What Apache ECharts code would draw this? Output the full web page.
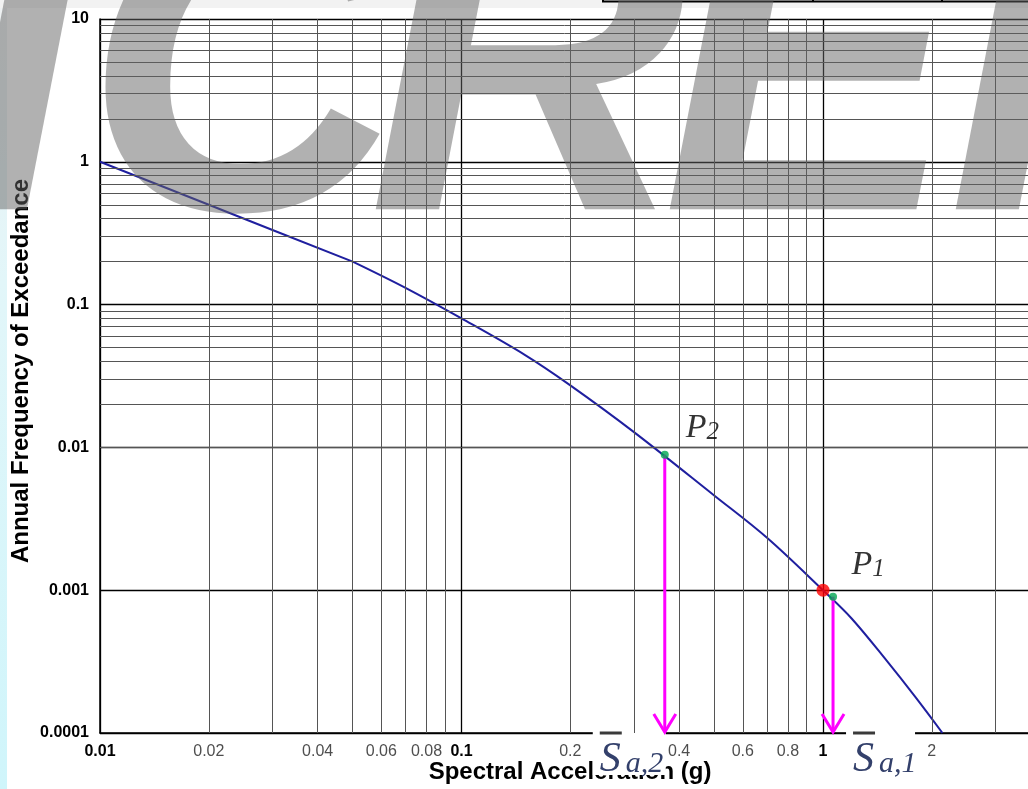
<!DOCTYPE html>
<html>
<head>
<meta charset="utf-8">
<script src="https://cdn.jsdelivr.net/npm/echarts@6/dist/echarts.min.js"></script>
<style>
  html, body { margin: 0; padding: 0; background: #ffffff; }
  #chart { width: 1028px; height: 789px; }
</style>
</head>
<body>
<div id="chart"></div>
<script>
// Seismic hazard curve: spectral acceleration (g) vs annual frequency of exceedance
const curveSa   = [0.01, 0.02, 0.03, 0.05, 0.07, 0.1, 0.15, 0.2, 0.3, 0.5, 0.7, 1.0, 1.2, 1.5, 1.8, 2.14];
const curveFreq = [1, 0.5, 0.333, 0.2, 0.131, 0.08, 0.0443, 0.0272, 0.0128, 0.00461, 0.00233, 0.001, 0.000634, 0.000321, 0.000179, 0.0001];
const kinkSa = 0.05;          // straight power-law branch ends here

const pointP1  = [1.0, 0.001];     // red design point
const pointP2  = [0.365, 0.0089];  // green point P2
const pointSa1 = [1.066, 0.0009];  // green point next to P1

const pointNames = ['P1', 'P2'];
const arrowSubs  = ['a,2', 'a,1'];

const xTickLabels  = ['0.01', '0.1', '1', '10'];
const xMinorLabels = [0.02, 0.04, 0.06, 0.08, 0.2, 0.4, 0.6, 0.8, 2, 4, 6, 8];
const yTickLabels  = ['0.0001', '0.001', '0.01', '0.1', '1', '10'];

const xDecades = [0.01, 0.1, 1];
const yDecades = [0.0001, 0.001, 0.01, 0.1, 1];
const minorSteps = [2, 3, 4, 5, 6, 7, 8, 9];

const X_MIN = 0.01, X_MAX = 10, Y_MIN = 0.0001, Y_MAX = 10;

// ---- derived structures -------------------------------------------------
const curvePts = curveSa.map((x, i) => [x, curveFreq[i]]);
const lowBranch  = curvePts.filter(p => p[0] <= kinkSa);
const highBranch = curvePts.filter(p => p[0] >= kinkSa);

const minorX = [];
xDecades.forEach(d => minorSteps.forEach(k => minorX.push({ xAxis: +(k * d).toPrecision(6) })));
const minorY = [];
yDecades.forEach(d => minorSteps.forEach(k => minorY.push({ yAxis: +(k * d).toPrecision(6) })));

// layout of the S-bar annotation boxes relative to each arrow
const annotLayout = [
  { boxFrom: -72, boxTo: 1 },
  { boxFrom: 13,  boxTo: 82 }
];

// background stamp lettering
const stampLetters = ['I', 'C', 'R', 'E', 'I'];
const stampX = [-44, 84, 368, 662, 948];

const SANS = '"Liberation Sans", Arial, sans-serif';
const SERIF = '"Liberation Serif", "Times New Roman", serif';

const chart = echarts.init(document.getElementById('chart'), null, { renderer: 'canvas' });

const stampGraphics = stampLetters.map((ch, i) => ({
  type: 'text', z: 100, x: stampX[i], y: 88,
  style: { text: ch, fill: 'rgba(100,100,100,0.5)', fontStyle: 'italic', fontWeight: 'bold',
           fontSize: 440, fontFamily: SANS, align: 'left', verticalAlign: 'middle' }
}));

const option = {
  animation: false,
  backgroundColor: '#ffffff',
  grid: { left: 100, top: 19, width: 1084.5, height: 714, containLabel: false, outerBoundsMode: 'none' },
  xAxis: {
    type: 'log', logBase: 10, min: X_MIN, max: X_MAX, splitNumber: 3,
    axisLine: { show: true, onZero: false, lineStyle: { color: '#000', width: 1.5 } },
    axisTick: { show: false },
    axisLabel: {
      formatter: (v, i) => xTickLabels[i],
      color: '#000', fontWeight: 'bold', fontSize: 16, fontFamily: SANS, margin: 11
    },
    splitLine: { show: true, lineStyle: { color: '#000', width: 1.3 } }
  },
  yAxis: {
    type: 'log', logBase: 10, min: Y_MIN, max: Y_MAX, splitNumber: 5,
    axisLine: { show: true, onZero: false, lineStyle: { color: '#000', width: 1.5 } },
    axisTick: { show: false },
    axisLabel: {
      formatter: (v, i) => yTickLabels[i],
      color: '#000', fontWeight: 'bold', fontSize: 16, fontFamily: SANS, margin: 11
    },
    splitLine: { show: true, lineStyle: { color: '#000', width: 1.3 } }
  },
  graphic: [
    { type: 'rect', z: -10, shape: { x: 0, y: 0, width: 1028, height: 8 }, style: { fill: '#f2f2f2' } },
    { type: 'rect', z: -10, shape: { x: 0, y: 8, width: 7, height: 781 },
      style: { fill: new echarts.graphic.LinearGradient(0, 0, 0, 1, [
        { offset: 0, color: '#eef1f2' }, { offset: 0.35, color: '#e2f6f9' }, { offset: 1, color: '#cff5fb' }]) } },
    { type: 'polyline', z: 5, shape: { points: [[603, 0], [603, 1.5], [1028, 1.5]] }, style: { stroke: '#000', lineWidth: 2, fill: null } },
    { type: 'line', z: 5, shape: { x1: 813, y1: 0, x2: 813, y2: 2 }, style: { stroke: '#000', lineWidth: 2 } },
    { type: 'line', z: 5, shape: { x1: 942, y1: 0, x2: 942, y2: 2 }, style: { stroke: '#000', lineWidth: 2 } },
    { type: 'text', z: 1, x: 570, y: 772.7,
      style: { text: 'Spectral Acceleration (g)', fill: '#000', fontWeight: 'bold', fontSize: 24, fontFamily: SANS, align: 'center', verticalAlign: 'middle' } },
    { type: 'text', z: 1, x: 21.5, y: 371, rotation: Math.PI / 2,
      style: { text: 'Annual Frequency of Exceedance', fill: '#000', fontWeight: 'bold', fontSize: 24, fontFamily: SANS, align: 'center', verticalAlign: 'middle' } }
  ].concat(stampGraphics),
  series: [
    {
      // minor (2..9) grid lines of the log-log paper
      type: 'line', data: [], silent: true, z: 1, symbol: 'none',
      markLine: {
        silent: true, symbol: ['none', 'none'], animation: false,
        label: { show: false },
        lineStyle: { color: '#555555', width: 1, type: 'solid' },
        emphasis: { disabled: true },
        data: minorX.concat(minorY)
      }
    },
    {
      type: 'line', data: lowBranch, z: 3, symbol: 'none', smooth: false,
      lineStyle: { color: '#1f1f9f', width: 2 }, silent: true
    },
    {
      type: 'line', data: highBranch, z: 3, symbol: 'none', smooth: 0.35,
      lineStyle: { color: '#1f1f9f', width: 2 }, silent: true
    },
    {
      // minor tick labels along the acceleration axis
      type: 'scatter', data: xMinorLabels.map(v => [v, Y_MIN]), symbolSize: 0, z: 2, silent: true, clip: false,
      label: {
        show: true, position: 'bottom', distance: 11,
        formatter: p => String(p.value[0]),
        color: '#222', fontSize: 16, fontFamily: SANS
      }
    },
    {
      // drop arrows from the points to the acceleration axis, with S-bar annotations
      type: 'custom', z: 4, silent: true, clip: false,
      data: [pointP2, pointSa1],
      renderItem: (params, api) => {
        const top = api.coord([api.value(0), api.value(1)]);
        const cs = params.coordSys;
        const bottom = cs.y + cs.height;
        const x = top[0];
        const lay = annotLayout[params.dataIndex];
        const left = x + lay.boxFrom;
        const base = bottom + 41;
        return {
          type: 'group',
          children: [
            { type: 'rect', shape: { x: left, y: bottom - 8, width: lay.boxTo - lay.boxFrom, height: 50 }, style: { fill: '#ffffff' } },
            { type: 'line', shape: { x1: left + 7, y1: bottom, x2: left + 29, y2: bottom }, style: { stroke: '#3a3a3a', lineWidth: 3 } },
            { type: 'text', style: { text: 'S', x: left + 7, y: base - 0.3375 * 42, fontStyle: 'italic', fontSize: 42, fontFamily: SERIF, fill: '#33406b', verticalAlign: 'middle', align: 'left' } },
            { type: 'text', style: { text: arrowSubs[params.dataIndex], x: left + 33, y: base - 0.3375 * 30, fontStyle: 'italic', fontSize: 30, fontFamily: SERIF, fill: '#33406b', verticalAlign: 'middle', align: 'left' } },
            { type: 'line', shape: { x1: x, y1: top[1], x2: x, y2: bottom - 2 }, style: { stroke: '#ff00ff', lineWidth: 3 } },
            { type: 'polyline', shape: { points: [[x - 11, bottom - 19], [x, bottom - 1], [x + 11, bottom - 19]] }, style: { stroke: '#ff00ff', lineWidth: 3, fill: null } }
          ]
        };
      }
    },
    {
      type: 'scatter', z: 6, silent: true, data: [pointSa1], symbolSize: 8,
      itemStyle: { color: '#00a651' }
    },
    {
      type: 'scatter', z: 6, silent: true, data: [pointP2], symbolSize: 8,
      itemStyle: { color: '#00a651' },
      label: {
        show: true, position: 'right', distance: 5, offset: [12, -27],
        formatter: () => '{p|P}{n|' + pointNames[1].slice(1) + '}',
        rich: {
          p: { fontFamily: SERIF, fontStyle: 'italic', fontSize: 34, color: '#000' },
          n: { fontFamily: SERIF, fontStyle: 'italic', fontSize: 25, color: '#000', verticalAlign: 'bottom' }
        }
      }
    },
    {
      type: 'scatter', z: 7, silent: true, data: [pointP1], symbolSize: 13,
      itemStyle: { color: '#ff0000' },
      label: {
        show: true, position: 'right', distance: 5, offset: [17, -25],
        formatter: () => '{p|P}{n|' + pointNames[0].slice(1) + '}',
        rich: {
          p: { fontFamily: SERIF, fontStyle: 'italic', fontSize: 34, color: '#000' },
          n: { fontFamily: SERIF, fontStyle: 'italic', fontSize: 25, color: '#000', verticalAlign: 'bottom' }
        }
      }
    }
  ]
};

chart.setOption(option);
</script>
</body>
</html>
